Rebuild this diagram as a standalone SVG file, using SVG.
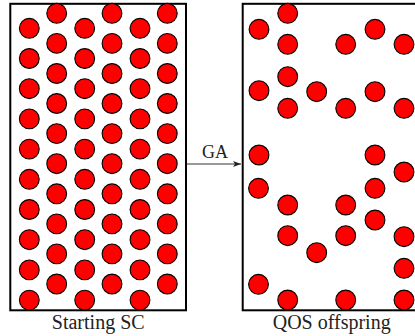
<svg xmlns="http://www.w3.org/2000/svg" width="415" height="336" viewBox="0 0 415 336">
<style>
.box{fill:#fff;stroke:#000;stroke-width:2}
.c{fill:#ff0000;stroke:#000;stroke-width:1.1}
.lbl{font-family:"Liberation Serif","Times New Roman",serif;fill:#222;text-anchor:middle}
.conn{stroke:#333;stroke-width:1;fill:none}
</style>
<defs>
<marker id="ah" markerWidth="8" markerHeight="6" refX="8" refY="3" orient="auto" markerUnits="userSpaceOnUse">
<path d="M0,0 L8,3 L0,6 L2,3 Z" fill="#222"/>
</marker>
<g id="dot"><circle class="c" r="9.9"/></g>
</defs>
<rect width="415" height="336" fill="#fff"/>
<g id="starting-sc">
<rect class="box" x="10.3" y="3.8" width="175.7" height="306.5"/>
<g>
<use href="#dot" x="29.3" y="28.3"/><use href="#dot" x="29.3" y="58.5"/><use href="#dot" x="29.3" y="88.7"/><use href="#dot" x="29.3" y="118.9"/><use href="#dot" x="29.3" y="149.1"/><use href="#dot" x="29.3" y="179.3"/><use href="#dot" x="29.3" y="209.5"/><use href="#dot" x="29.3" y="239.7"/><use href="#dot" x="29.3" y="269.9"/><use href="#dot" x="29.3" y="300.1"/>
<use href="#dot" x="84.7" y="28.3"/><use href="#dot" x="84.7" y="58.5"/><use href="#dot" x="84.7" y="88.7"/><use href="#dot" x="84.7" y="118.9"/><use href="#dot" x="84.7" y="149.1"/><use href="#dot" x="84.7" y="179.3"/><use href="#dot" x="84.7" y="209.5"/><use href="#dot" x="84.7" y="239.7"/><use href="#dot" x="84.7" y="269.9"/><use href="#dot" x="84.7" y="300.1"/>
<use href="#dot" x="140" y="28.3"/><use href="#dot" x="140" y="58.5"/><use href="#dot" x="140" y="88.7"/><use href="#dot" x="140" y="118.9"/><use href="#dot" x="140" y="149.1"/><use href="#dot" x="140" y="179.3"/><use href="#dot" x="140" y="209.5"/><use href="#dot" x="140" y="239.7"/><use href="#dot" x="140" y="269.9"/><use href="#dot" x="140" y="300.1"/>
<use href="#dot" x="56.7" y="13.3"/><use href="#dot" x="56.7" y="43.4"/><use href="#dot" x="56.7" y="73.5"/><use href="#dot" x="56.7" y="103.5"/><use href="#dot" x="56.7" y="133.6"/><use href="#dot" x="56.7" y="163.7"/><use href="#dot" x="56.7" y="193.8"/><use href="#dot" x="56.7" y="223.9"/><use href="#dot" x="56.7" y="253.9"/><use href="#dot" x="56.7" y="284"/>
<use href="#dot" x="112" y="13.3"/><use href="#dot" x="112" y="43.4"/><use href="#dot" x="112" y="73.5"/><use href="#dot" x="112" y="103.5"/><use href="#dot" x="112" y="133.6"/><use href="#dot" x="112" y="163.7"/><use href="#dot" x="112" y="193.8"/><use href="#dot" x="112" y="223.9"/><use href="#dot" x="112" y="253.9"/><use href="#dot" x="112" y="284"/>
<use href="#dot" x="167.3" y="13.3"/><use href="#dot" x="167.3" y="43.4"/><use href="#dot" x="167.3" y="73.5"/><use href="#dot" x="167.3" y="103.5"/><use href="#dot" x="167.3" y="133.6"/><use href="#dot" x="167.3" y="163.7"/><use href="#dot" x="167.3" y="193.8"/><use href="#dot" x="167.3" y="223.9"/><use href="#dot" x="167.3" y="253.9"/><use href="#dot" x="167.3" y="284"/>
</g>
<text class="lbl" x="98.2" y="329" font-size="20">Starting SC</text>
</g>
<g id="qos-offspring">
<rect class="box" x="242.7" y="3.8" width="190" height="306.5"/>
<g>
<use href="#dot" x="287.7" y="13.3"/><use href="#dot" x="259" y="29.3"/><use href="#dot" x="287.7" y="44.3"/><use href="#dot" x="345.7" y="44.3"/><use href="#dot" x="375" y="29.3"/><use href="#dot" x="404" y="44.3"/>
<use href="#dot" x="287.7" y="76.7"/><use href="#dot" x="259" y="90.7"/><use href="#dot" x="316.7" y="91.7"/><use href="#dot" x="287.7" y="108.3"/><use href="#dot" x="345.7" y="108.3"/><use href="#dot" x="375" y="91.7"/><use href="#dot" x="404" y="108.3"/>
<use href="#dot" x="259" y="155"/><use href="#dot" x="375" y="155"/><use href="#dot" x="404" y="172"/>
<use href="#dot" x="258.5" y="188.3"/><use href="#dot" x="287.7" y="205"/><use href="#dot" x="345.7" y="205"/><use href="#dot" x="375" y="188.3"/><use href="#dot" x="375" y="220"/>
<use href="#dot" x="287.7" y="235.7"/><use href="#dot" x="316.7" y="252.7"/><use href="#dot" x="345.7" y="235.7"/><use href="#dot" x="404" y="236.7"/><use href="#dot" x="404" y="268.3"/>
<use href="#dot" x="258.5" y="284.3"/><use href="#dot" x="287.7" y="300"/><use href="#dot" x="345.7" y="300"/><use href="#dot" x="404" y="300"/>
</g>
<text class="lbl" x="331.7" y="329" font-size="20">QOS offspring</text>
</g>
<g id="connectors">
<line class="conn" x1="187" y1="164" x2="241" y2="164" marker-end="url(#ah)"/>
<text class="lbl" x="215" y="157.7" font-size="18">GA</text>
</g>
</svg>
